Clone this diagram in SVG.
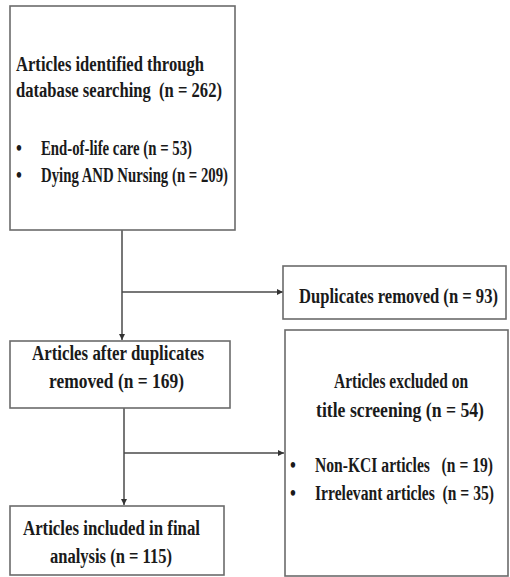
<svg xmlns="http://www.w3.org/2000/svg" width="510" height="577" viewBox="0 0 510 577">
<style>
.box{fill:#fff;stroke:#6b6b6b;stroke-width:1.6}
.t{font-family:"Liberation Serif","Times New Roman",serif;font-weight:bold;font-size:21px;fill:#1a1a1a;white-space:pre}
.c{fill:none;stroke:#4a4a4a;stroke-width:1.5}
</style>
<defs>
<marker id="ah" viewBox="0 0 10 10" refX="10" refY="5" markerWidth="6" markerHeight="6" markerUnits="userSpaceOnUse" orient="auto">
<path d="M0,0 L10,5 L0,10 z" fill="#333"/>
</marker>
</defs>
<rect width="510" height="577" fill="#fff"/>
<g id="connectors">
<path class="c" d="M122,230 V340" marker-end="url(#ah)"/>
<path class="c" d="M122,292 H283" marker-end="url(#ah)"/>
<path class="c" d="M124,408 V505" marker-end="url(#ah)"/>
<path class="c" d="M124,453 H284" marker-end="url(#ah)"/>
</g>
<g id="identified">
<rect class="box" x="10" y="6" width="225" height="224"/>
<g transform="scale(0.8,1)">
<text class="t" x="20" y="71" textLength="235" lengthAdjust="spacingAndGlyphs">Articles identified through</text>
<text class="t" x="20" y="97" textLength="257.5" lengthAdjust="spacingAndGlyphs">database searching  (n = 262)</text>
<text class="t" x="20" y="155">•</text>
<text class="t" x="51.25" y="155" textLength="188.75" lengthAdjust="spacingAndGlyphs">End-of-life care (n = 53)</text>
<text class="t" x="20" y="182">•</text>
<text class="t" x="51.25" y="182" textLength="233.75" lengthAdjust="spacingAndGlyphs">Dying AND Nursing (n = 209)</text>
</g>
</g>
<g id="duplicates">
<rect class="box" x="283" y="266" width="223" height="53"/>
<g transform="scale(0.8,1)">
<text class="t" x="373.75" y="303" textLength="248.75" lengthAdjust="spacingAndGlyphs">Duplicates removed (n = 93)</text>
</g>
</g>
<g id="after">
<rect class="box" x="10" y="341" width="220" height="67"/>
<g transform="scale(0.8,1)">
<text class="t" x="40" y="360" textLength="215" lengthAdjust="spacingAndGlyphs">Articles after duplicates</text>
<text class="t" x="61.25" y="388" textLength="168.75" lengthAdjust="spacingAndGlyphs">removed (n = 169)</text>
</g>
</g>
<g id="excluded">
<rect class="box" x="285" y="330" width="223" height="246"/>
<g transform="scale(0.8,1)">
<text class="t" x="417.5" y="388" textLength="167.5" lengthAdjust="spacingAndGlyphs">Articles excluded on</text>
<text class="t" x="395" y="417" textLength="210" lengthAdjust="spacingAndGlyphs">title screening (n = 54)</text>
<text class="t" x="362.5" y="472">•</text>
<text class="t" x="393.75" y="472" textLength="222.5" lengthAdjust="spacingAndGlyphs">Non-KCI articles   (n = 19)</text>
<text class="t" x="362.5" y="500">•</text>
<text class="t" x="393.75" y="500" textLength="223.75" lengthAdjust="spacingAndGlyphs">Irrelevant articles  (n = 35)</text>
</g>
</g>
<g id="included">
<rect class="box" x="10" y="506" width="214" height="69"/>
<g transform="scale(0.8,1)">
<text class="t" x="28.75" y="535" textLength="221.25" lengthAdjust="spacingAndGlyphs">Articles included in final</text>
<text class="t" x="62.5" y="563" textLength="152.5" lengthAdjust="spacingAndGlyphs">analysis (n = 115)</text>
</g>
</g>
</svg>
